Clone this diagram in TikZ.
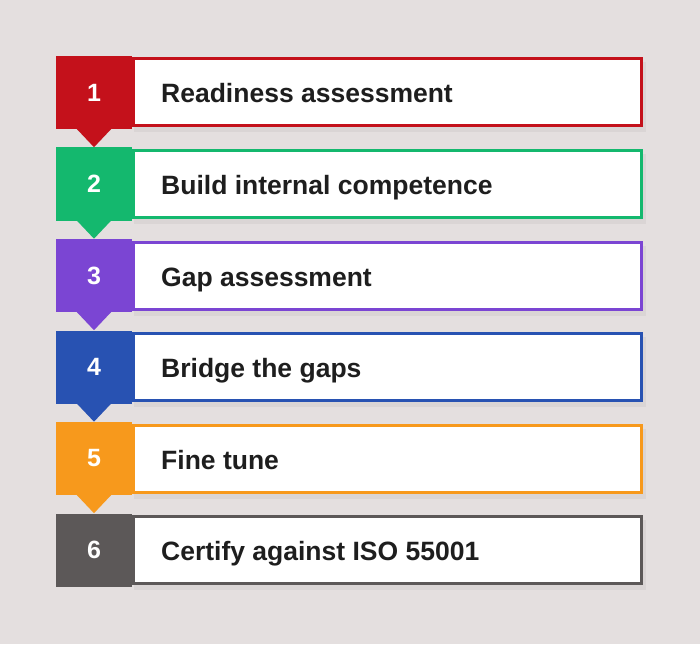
\documentclass[tikz,border=0pt]{standalone}
\usepackage{fontspec}
\setmainfont{Liberation Sans}
\usetikzlibrary{positioning}
\definecolor{bgcol}{HTML}{E4DFDF}
\definecolor{stepred}{HTML}{C4111B}
\definecolor{stepgreen}{HTML}{14B86E}
\definecolor{steppurple}{HTML}{7B45D3}
\definecolor{stepblue}{HTML}{2852B2}
\definecolor{steporange}{HTML}{F7991C}
\definecolor{stepgray}{HTML}{5C5858}
\definecolor{textcol}{HTML}{1E1E1E}
\tikzset{
    stepnum/.style={fill=#1, minimum width=76pt, minimum height=73pt, inner sep=0pt,
        text=white, font=\bfseries\fontsize{25}{30}\selectfont},
    stepbox/.style={draw=#1, line width=3pt, fill=white, anchor=west,
        minimum width=508pt, minimum height=67pt, inner sep=0pt},
    stepshadow/.style={fill=black, opacity=0.045},
    steptext/.style={inner sep=0pt, text=textcol,
        font=\bfseries\fontsize{26.5}{30}\selectfont},
}
\begin{document}
\begin{tikzpicture}[x=1pt, y=-1pt]
	\fill[bgcol] (0,0) rectangle (700,644);
	% steps
	\foreach \i/\col/\txt in {1/stepred/Readiness assessment,
			2/stepgreen/Build internal competence,
			3/steppurple/Gap assessment,
			4/stepblue/Bridge the gaps,
			5/steporange/Fine tune,
			6/stepgray/Certify against ISO 55001}{
		\fill[stepshadow] (134,{92.5+91.5*(\i-1)-30}) rectangle (646,{92.5+91.5*(\i-1)+40});
		\node[stepbox=\col] (box\i) at (132,{92.5+91.5*(\i-1)}) {};
		\node[stepnum=\col] (num\i) at (94,{92.5+91.5*(\i-1)}) {\raisebox{-1pt}{\i}};
		\node[steptext, right=29pt of box\i.west, anchor=base west, yshift=-10.5pt] (txt\i) {\txt};
	}
	% pointers
	\foreach \i/\col in {1/stepred,2/stepgreen,3/steppurple,4/stepblue,5/steporange}
		\fill[\col] ([xshift=-18pt,yshift=1pt]num\i.south) -- ([xshift=18pt,yshift=1pt]num\i.south)
			-- ([yshift=-18pt]num\i.south) -- cycle;
\end{tikzpicture}
\end{document}
